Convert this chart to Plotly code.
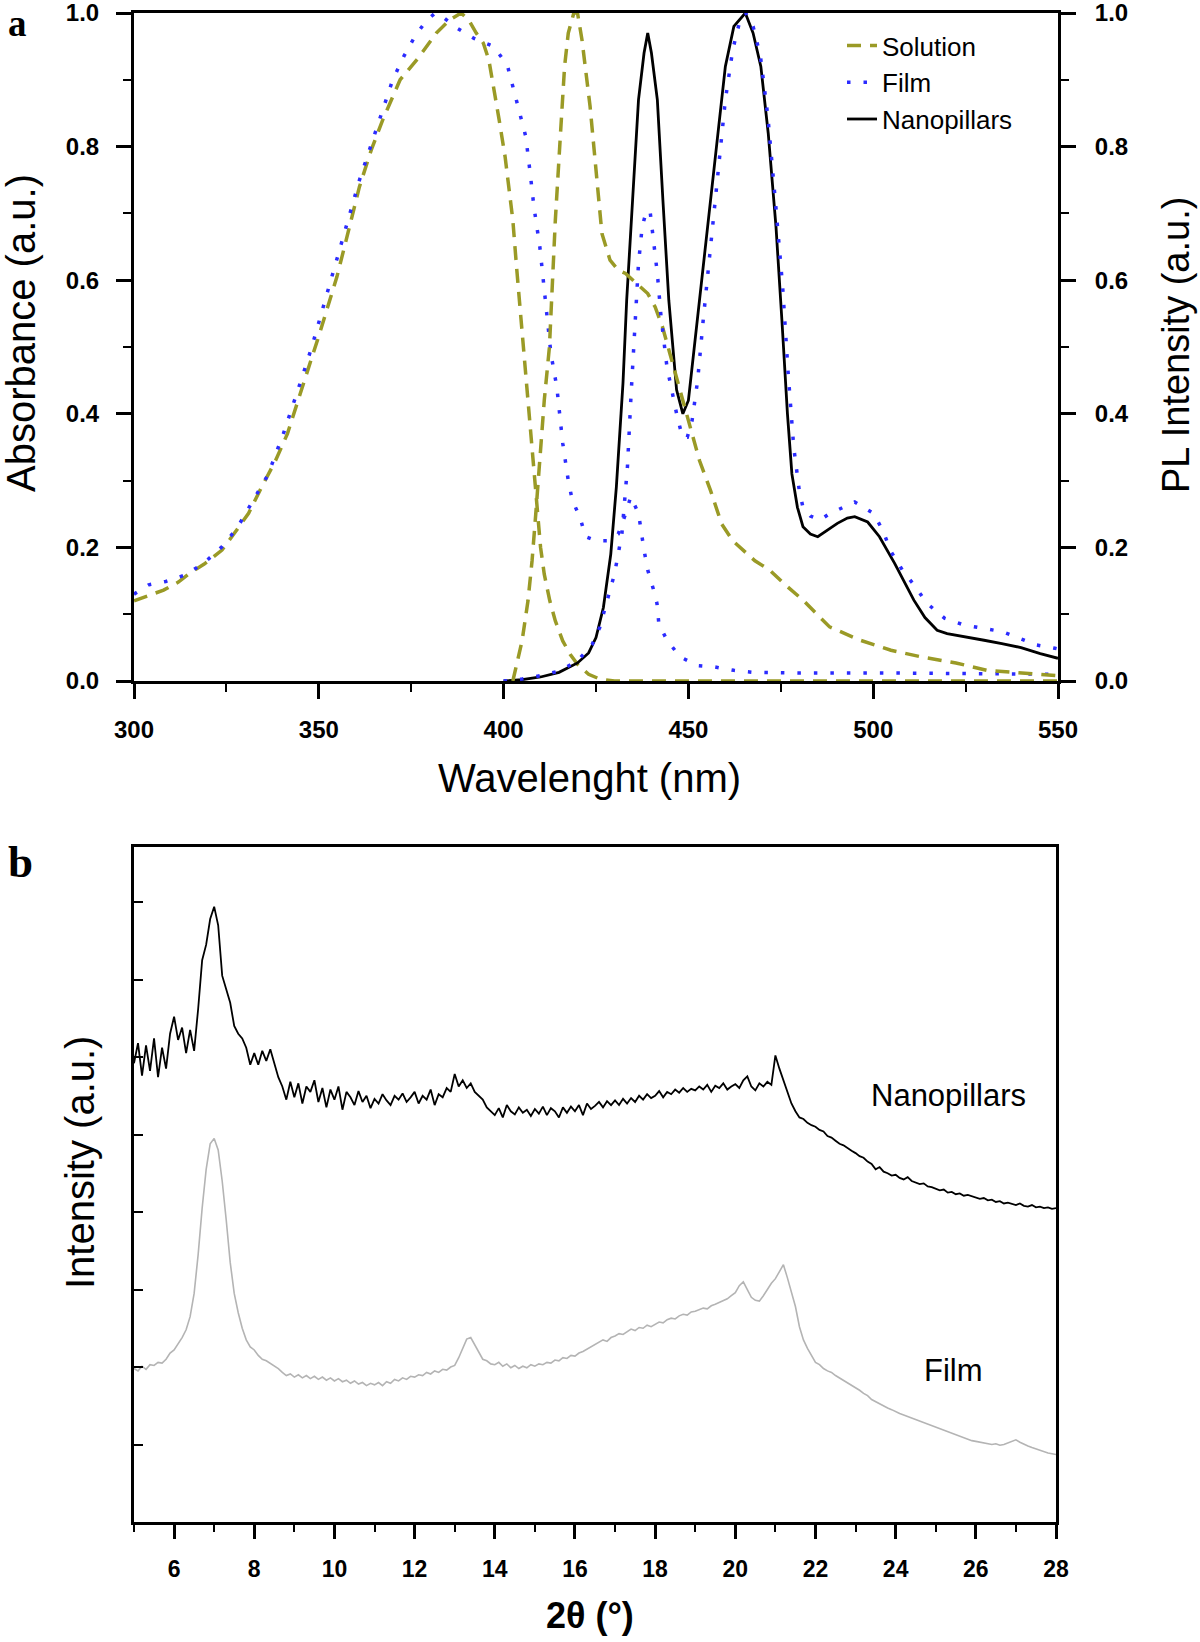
import plotly.graph_objects as go

# ---------------- Panel a data ----------------
solution_abs_wl = [300, 304, 308, 312, 315, 319, 323.8, 327, 331, 334.5, 338.3, 341.5, 344.5, 347, 350.2,
                   352.8, 354.9, 357.4, 361, 364.2, 367.3, 372, 377.1, 381.8, 385.5, 388.5, 390.5, 392.6,
                   394.5, 396, 397.5, 398.8, 400.4, 401.5, 402.5, 403.5, 404.6, 405.6, 406.9, 408, 409, 410,
                   411, 412.5, 414, 416, 418, 420, 423, 426, 430, 440, 460, 480, 500, 520, 550]
solution_abs = [0.12, 0.128, 0.136, 0.148, 0.161, 0.175, 0.196, 0.22, 0.251, 0.29, 0.33, 0.37, 0.42, 0.465,
                0.52, 0.565, 0.605, 0.66, 0.74, 0.795, 0.84, 0.9, 0.934, 0.97, 0.99, 1.0, 0.99, 0.97, 0.955,
                0.93, 0.885, 0.84, 0.785, 0.74, 0.69, 0.62, 0.55, 0.48, 0.40, 0.33, 0.26, 0.20, 0.16, 0.12,
                0.09, 0.06, 0.04, 0.025, 0.01, 0.003, 0.0, 0.0, 0.0, 0.0, 0.0, 0.0, 0.0]

solution_pl_wl = [402.5, 405, 406.6, 407.7, 408.7, 409.7, 411, 412.4, 413.2, 414, 415.4, 416.5, 417.5, 419,
                  420, 421.2, 423.4, 425.2, 426.6, 428.8, 431, 433, 435, 437, 439, 441, 443, 445, 447, 449,
                  451, 453, 456, 459, 462, 465, 468, 472, 476, 481, 488.2, 496.5, 504.8, 513.1, 522.4,
                  530.7, 540, 548.3, 550]
solution_pl = [0.0, 0.06, 0.12, 0.18, 0.25, 0.33, 0.42, 0.5, 0.6, 0.69, 0.82, 0.92, 0.97, 1.0, 1.0, 0.96,
               0.86, 0.76, 0.67, 0.63, 0.615, 0.61, 0.60, 0.59, 0.58, 0.56, 0.53, 0.49, 0.45, 0.41, 0.37,
               0.33, 0.285, 0.235, 0.21, 0.195, 0.18, 0.166, 0.145, 0.121, 0.081, 0.061, 0.046, 0.036,
               0.027, 0.016, 0.012, 0.009, 0.008]

film_abs_wl = [300, 304, 308.6, 314, 319, 323.8, 327.9, 331, 336.2, 340.4, 343.5, 345.5, 348.1, 350.7, 355,
               358, 361, 364, 367, 370, 373, 376, 379, 381.5, 384, 387.5, 392, 397.3, 401, 403.5, 406,
               407.2, 408.2, 409.8, 411.3, 412.8, 414.4, 416, 417.5, 418.6, 420.6, 422.2, 425, 428, 431,
               433, 434.4, 436.5, 438, 439, 440.6, 441.5, 442, 444.2, 447.8, 452.5, 457.1, 462.3, 467.5,
               480, 502.7, 520, 550]
film_abs = [0.13, 0.144, 0.149, 0.159, 0.177, 0.201, 0.229, 0.259, 0.308, 0.37, 0.42, 0.455, 0.5, 0.55,
            0.63, 0.69, 0.75, 0.80, 0.85, 0.90, 0.935, 0.965, 0.988, 1.0, 0.992, 0.977, 0.962, 0.95, 0.922,
            0.87, 0.815, 0.76, 0.71, 0.65, 0.57, 0.49, 0.44, 0.356, 0.30, 0.27, 0.246, 0.216, 0.21, 0.21,
            0.22, 0.25, 0.276, 0.251, 0.196, 0.166, 0.136, 0.116, 0.086, 0.061, 0.036, 0.023, 0.021, 0.016,
            0.013, 0.012, 0.012, 0.011, 0.01]

film_pl_wl = [400, 405, 410, 415, 420, 424, 426, 428, 430, 432, 433.5, 434.5, 435.5, 436.5, 437.5, 438.7,
              439.7, 440.6, 441.6, 442.6, 444.2, 445.7, 447, 448.4, 449.7, 451, 452.5, 454, 456, 458, 460,
              462, 464, 465.5, 467.5, 469.5, 471.5, 473.5, 475.5, 477, 478.5, 480, 481, 483, 485.7, 488,
              490.3, 495, 500.1, 502.7, 504.8, 508, 511, 514.6, 519.3, 524.5, 529.6, 534.8, 539.5, 544.1,
              549.2, 550]
film_pl = [0.0, 0.003, 0.008, 0.015, 0.03, 0.055, 0.08, 0.12, 0.16, 0.22, 0.32, 0.43, 0.54, 0.625, 0.68,
           0.705, 0.70, 0.66, 0.61, 0.545, 0.47, 0.43, 0.395, 0.365, 0.365, 0.39, 0.45, 0.54, 0.65, 0.77,
           0.87, 0.945, 0.99, 1.0, 0.98, 0.935, 0.845, 0.72, 0.59, 0.46, 0.35, 0.285, 0.26, 0.247, 0.241,
           0.25, 0.256, 0.268, 0.251, 0.224, 0.194, 0.165, 0.144, 0.116, 0.094, 0.084, 0.079, 0.074, 0.064,
           0.054, 0.049, 0.048]

nano_pl_wl = [400, 405, 410, 415, 420, 423, 425, 427, 429, 430.5, 432.3, 433.3, 434.9, 436.5, 438, 439,
              440, 441.6, 443.1, 444.7, 446.8, 448.5, 450, 452, 454, 457, 460, 462.3, 465.4, 467.5, 469.6,
              471.6, 473.7, 475.3, 476.8, 478, 479.5, 481, 483, 485, 487.5, 490.3, 493, 495, 498.5, 501.7,
              505.8, 511, 514, 517.3, 520, 524.5, 530, 534.8, 540, 545.2, 550]
nano_pl = [0.0, 0.002, 0.006, 0.013, 0.027, 0.042, 0.065, 0.11, 0.19, 0.29, 0.446, 0.57, 0.72, 0.87, 0.94,
           0.97, 0.94, 0.87, 0.72, 0.57, 0.436, 0.40, 0.42, 0.52, 0.62, 0.77, 0.92, 0.98, 1.0, 0.97, 0.92,
           0.82, 0.68, 0.54, 0.40, 0.31, 0.26, 0.231, 0.22, 0.216, 0.225, 0.236, 0.244, 0.246, 0.238,
           0.216, 0.176, 0.121, 0.095, 0.076, 0.071, 0.066, 0.061, 0.056, 0.05, 0.041, 0.034]

wl_ticks = [300, 350, 400, 450, 500, 550]
val_ticks = [0.0, 0.2, 0.4, 0.6, 0.8, 1.0]
val_ticktext = ["0.0", "0.2", "0.4", "0.6", "0.8", "1.0"]

# ---------------- Panel b data ----------------
two_theta = [round(5 + 0.1 * i, 1) for i in range(231)]
xrd_nanopillars = [
    5.92, 6.18, 5.76, 6.15, 5.82, 6.24, 5.74, 6.12, 5.85, 6.30,
    6.52, 6.22, 6.38, 6.05, 6.35, 6.08, 6.62, 7.25, 7.45, 7.78,
    7.94, 7.70, 7.05, 6.88, 6.70, 6.40, 6.30, 6.24, 6.12, 5.90,
    6.05, 5.90, 6.08, 5.95, 6.10, 5.92, 5.74, 5.62, 5.45, 5.68,
    5.48, 5.66, 5.40, 5.62, 5.55, 5.70, 5.42, 5.60, 5.35, 5.58,
    5.45, 5.62, 5.32, 5.55, 5.48, 5.38, 5.56, 5.42, 5.50, 5.34,
    5.46, 5.40, 5.52, 5.44, 5.38, 5.50, 5.45, 5.53, 5.42, 5.48,
    5.55, 5.40, 5.50, 5.45, 5.58, 5.38, 5.52, 5.48, 5.60, 5.55,
    5.78, 5.62, 5.70, 5.60, 5.66, 5.55, 5.50, 5.45, 5.35, 5.30,
    5.25, 5.34, 5.22, 5.38, 5.30, 5.26, 5.35, 5.28, 5.32, 5.24,
    5.33, 5.27, 5.36, 5.25, 5.34, 5.30, 5.22, 5.35, 5.28, 5.36,
    5.30, 5.38, 5.25, 5.40, 5.33, 5.37, 5.42, 5.35, 5.43, 5.38,
    5.44, 5.38, 5.46, 5.40, 5.47, 5.42, 5.50, 5.45, 5.52, 5.47,
    5.50, 5.56, 5.48, 5.55, 5.52, 5.58, 5.54, 5.60, 5.55, 5.59,
    5.57, 5.62, 5.58, 5.64, 5.55, 5.63, 5.60, 5.66, 5.58, 5.62,
    5.65, 5.60, 5.70, 5.75, 5.62, 5.57, 5.66, 5.62, 5.68, 5.64,
    6.02, 5.85, 5.70, 5.55, 5.40, 5.30, 5.22, 5.20, 5.15, 5.12,
    5.10, 5.06, 5.04, 4.98, 4.96, 4.92, 4.88, 4.86, 4.82, 4.79,
    4.76, 4.72, 4.70, 4.65, 4.62, 4.55, 4.58, 4.52, 4.50, 4.47,
    4.48, 4.44, 4.42, 4.45, 4.40, 4.38, 4.36, 4.37, 4.33, 4.32,
    4.30, 4.28, 4.29, 4.25, 4.26, 4.23, 4.24, 4.21, 4.22, 4.20,
    4.19, 4.17, 4.18, 4.15, 4.16, 4.13, 4.14, 4.11, 4.12, 4.10,
    4.09, 4.11, 4.08, 4.07, 4.09, 4.06, 4.07, 4.05, 4.06, 4.04,
    4.05]
xrd_film = [
    1.98, 1.95, 2.01, 1.97, 2.03, 2.02, 2.06, 2.05, 2.10, 2.18,
    2.22, 2.30, 2.38, 2.48, 2.65, 2.95, 3.45, 4.05, 4.55, 4.88,
    4.95, 4.80, 4.40, 3.90, 3.35, 2.95, 2.70, 2.50, 2.35, 2.26,
    2.22, 2.15, 2.10, 2.08, 2.05, 2.02, 1.98, 1.93, 1.89, 1.91,
    1.87, 1.90, 1.86, 1.89, 1.85, 1.88, 1.84, 1.87, 1.83, 1.86,
    1.82, 1.85, 1.81, 1.83, 1.79, 1.82, 1.78, 1.80, 1.76, 1.79,
    1.77, 1.80, 1.76, 1.81, 1.79, 1.84, 1.82, 1.86, 1.84, 1.88,
    1.87, 1.90, 1.89, 1.93, 1.91, 1.95, 1.93, 1.97, 1.96, 2.00,
    2.02, 2.12, 2.25, 2.36, 2.38, 2.28, 2.18, 2.10, 2.08, 2.04,
    2.03, 2.06, 2.01, 2.04, 1.99, 2.02, 1.98, 2.01, 1.99, 2.03,
    2.01, 2.04, 2.03, 2.06, 2.05, 2.09, 2.08, 2.12, 2.11, 2.15,
    2.14, 2.18, 2.20, 2.23, 2.26, 2.29, 2.32, 2.35, 2.33, 2.38,
    2.40, 2.43, 2.42, 2.46, 2.49, 2.47, 2.51, 2.50, 2.54, 2.52,
    2.55, 2.58, 2.57, 2.61, 2.63, 2.62, 2.66, 2.68, 2.67, 2.71,
    2.72, 2.74, 2.76, 2.75, 2.79, 2.81, 2.83, 2.85, 2.88, 2.92,
    2.96, 3.05, 3.10, 3.00, 2.90, 2.86, 2.85, 2.92, 3.00, 3.08,
    3.14, 3.24, 3.32, 3.15, 2.98, 2.78, 2.52, 2.35, 2.24, 2.14,
    2.06, 2.03, 1.98, 1.95, 1.93, 1.89, 1.86, 1.83, 1.80, 1.76,
    1.73, 1.70, 1.66, 1.63, 1.58, 1.55, 1.52, 1.50, 1.47, 1.45,
    1.42, 1.40, 1.38, 1.36, 1.34, 1.32, 1.30, 1.28, 1.27, 1.25,
    1.23, 1.21, 1.19, 1.16, 1.14, 1.12, 1.10, 1.08, 1.07, 1.05,
    1.04, 1.03, 1.02, 1.01, 1.00, 1.01, 0.99, 1.00, 1.02, 1.05,
    1.06, 1.03, 1.00, 0.98, 0.96, 0.94, 0.92, 0.90, 0.89, 0.88,
    0.87]
theta_ticks = [6, 8, 10, 12, 14, 16, 18, 20, 22, 24, 26, 28]
intensity_ticks = [1, 2, 3, 4, 5, 6, 7, 8]

# ---------------- Styles ----------------
OLIVE = "#9a9a26"
BLUE = "#2b2bff"
BLACK = "#000000"
GREY = "#b4b4b4"
SANS = "Liberation Sans, Arial, sans-serif"
SERIF = "Liberation Serif, Times New Roman, serif"

W, H = 1200, 1642
ML, MR, MT, MB = 134, 142, 13, 120
PW = W - ML - MR
PH = H - MT - MB


def px(x):
    return (x - ML) / PW


def py(y):
    return (H - MB - y) / PH


fig = go.Figure()

# absorbance (left axis)
fig.add_trace(go.Scatter(x=solution_abs_wl, y=solution_abs, mode="lines", name="Solution",
                         legendgroup="sol", line=dict(color=OLIVE, width=3.5, dash="14px,9px"),
                         xaxis="x", yaxis="y"))
fig.add_trace(go.Scatter(x=film_abs_wl, y=film_abs, mode="lines", name="Film",
                         legendgroup="film", line=dict(color=BLUE, width=3.5, dash="3.5px,13px"),
                         xaxis="x", yaxis="y"))
fig.add_trace(go.Scatter(x=nano_pl_wl, y=nano_pl, mode="lines", name="Nanopillars",
                         legendgroup="nano", line=dict(color=BLACK, width=2.8),
                         xaxis="x", yaxis="y2"))
# PL (right axis)
fig.add_trace(go.Scatter(x=solution_pl_wl, y=solution_pl, mode="lines", name="Solution",
                         legendgroup="sol", showlegend=False,
                         line=dict(color=OLIVE, width=3.5, dash="14px,9px"),
                         xaxis="x", yaxis="y2"))
fig.add_trace(go.Scatter(x=film_pl_wl, y=film_pl, mode="lines", name="Film",
                         legendgroup="film", showlegend=False,
                         line=dict(color=BLUE, width=3.5, dash="3.5px,13px"),
                         xaxis="x", yaxis="y2"))

# XRD
fig.add_trace(go.Scatter(x=two_theta, y=xrd_film, mode="lines", name="Film XRD", showlegend=False,
                         line=dict(color=GREY, width=1.6), xaxis="x2", yaxis="y3"))
fig.add_trace(go.Scatter(x=two_theta, y=xrd_nanopillars, mode="lines", name="Nanopillars XRD",
                         showlegend=False, line=dict(color=BLACK, width=1.8), xaxis="x2", yaxis="y3"))

tickfont_a = dict(family=SANS, size=24, color="black", weight="bold")
tickfont_b = dict(family=SANS, size=23, color="black", weight="bold")

dom_a = [py(681), 1.0]
dom_b = [0.0, py(847)]

common_line = dict(showline=True, linecolor="black", linewidth=3, showgrid=False, zeroline=False,
                   tickcolor="black", automargin=False, ticklabeloverflow="allow")

fig.update_layout(
    width=W, height=H,
    margin=dict(l=ML, r=MR, t=MT, b=MB, pad=0, autoexpand=False),
    paper_bgcolor="white", plot_bgcolor="white",
    showlegend=True,
    legend=dict(x=px(842), y=py(22), xanchor="left", yanchor="top",
                font=dict(family=SANS, size=26, color="black"),
                bgcolor="rgba(0,0,0,0)", borderwidth=0, tracegroupgap=0),
    xaxis=dict(domain=[0, 1], anchor="y", range=[300, 550], tickmode="array", tickvals=wl_ticks,
               ticks="outside", ticklen=15, tickwidth=2.5, mirror=True, tickfont=tickfont_a,
               ticklabelstandoff=10,
               minor=dict(tick0=300, dtick=25, ticks="outside", ticklen=8, tickwidth=2, tickcolor="black"),
               **common_line),
    yaxis=dict(domain=dom_a, anchor="x", range=[0, 1], tickmode="array", tickvals=val_ticks,
               ticktext=val_ticktext, ticks="outside", ticklen=15, tickwidth=2.5, tickfont=tickfont_a,
               ticklabelstandoff=12,
               minor=dict(tick0=0, dtick=0.1, ticks="outside", ticklen=8, tickwidth=2, tickcolor="black"),
               **common_line),
    yaxis2=dict(domain=dom_a, anchor="x", overlaying="y", side="right", range=[0, 1], tickmode="array",
                tickvals=val_ticks, ticktext=val_ticktext, ticks="outside", ticklen=15, tickwidth=2.5,
                tickfont=tickfont_a, ticklabelstandoff=14,
                minor=dict(tick0=0, dtick=0.1, ticks="outside", ticklen=8, tickwidth=2, tickcolor="black"),
                **common_line),
    xaxis2=dict(domain=[0, (1056 - ML) / PW], anchor="y3", range=[5, 28], tickmode="array",
                tickvals=theta_ticks, ticks="outside", ticklen=14, tickwidth=2.5, mirror=True,
                tickfont=tickfont_b, ticklabelstandoff=10,
                minor=dict(tick0=5, dtick=1, ticks="outside", ticklen=7, tickwidth=2, tickcolor="black"),
                **common_line),
    yaxis3=dict(domain=dom_b, anchor="x2", range=[0, 8.71], tickmode="array", tickvals=intensity_ticks,
                ticks="inside", ticklen=9, tickwidth=1.5, showticklabels=False, mirror=True,
                **common_line),
)

title_font = dict(family=SANS, size=40, color="black")
annotations = [
    dict(text="<b>a</b>", x=px(17), y=py(1), xref="paper", yref="paper", showarrow=False,
         xanchor="center", yanchor="top", font=dict(family=SERIF, size=37, color="black")),
    dict(text="<b>b</b>", x=px(20), y=py(862), xref="paper", yref="paper", showarrow=False,
         xanchor="center", yanchor="middle", font=dict(family=SERIF, size=45, color="black")),
    dict(text="Absorbance (a.u.)", x=px(21), y=py(333), xref="paper", yref="paper", showarrow=False,
         textangle=-90, xanchor="center", yanchor="middle", font=title_font),
    dict(text="PL Intensity (a.u.)", x=px(1176), y=py(345), xref="paper", yref="paper", showarrow=False,
         textangle=-90, xanchor="center", yanchor="middle", font=dict(family=SANS, size=38, color="black")),
    dict(text="Wavelenght (nm)", x=px(589), y=py(778), xref="paper", yref="paper", showarrow=False,
         xanchor="center", yanchor="middle", font=title_font),
    dict(text="Intensity (a.u.)", x=px(80), y=py(1163), xref="paper", yref="paper", showarrow=False,
         textangle=-90, xanchor="center", yanchor="middle", font=title_font),
    dict(text="<b>2θ (°)</b>", x=px(590), y=py(1616), xref="paper", yref="paper", showarrow=False,
         xanchor="center", yanchor="middle", font=dict(family=SANS, size=36, color="black")),
    dict(text="Nanopillars", x=25.33, y=5.50, xref="x2", yref="y3", showarrow=False,
         xanchor="center", yanchor="middle", font=dict(family=SANS, size=31, color="black")),
    dict(text="Film", x=25.45, y=1.96, xref="x2", yref="y3", showarrow=False,
         xanchor="center", yanchor="middle", font=dict(family=SANS, size=31, color="black")),
]
fig.update_layout(annotations=annotations)

fig.write_html("out.html",
               config={"displayModeBar": False},
               post_script="document.body.style.margin='0';document.body.style.padding='0';"
                           "document.body.style.overflow='hidden';")
